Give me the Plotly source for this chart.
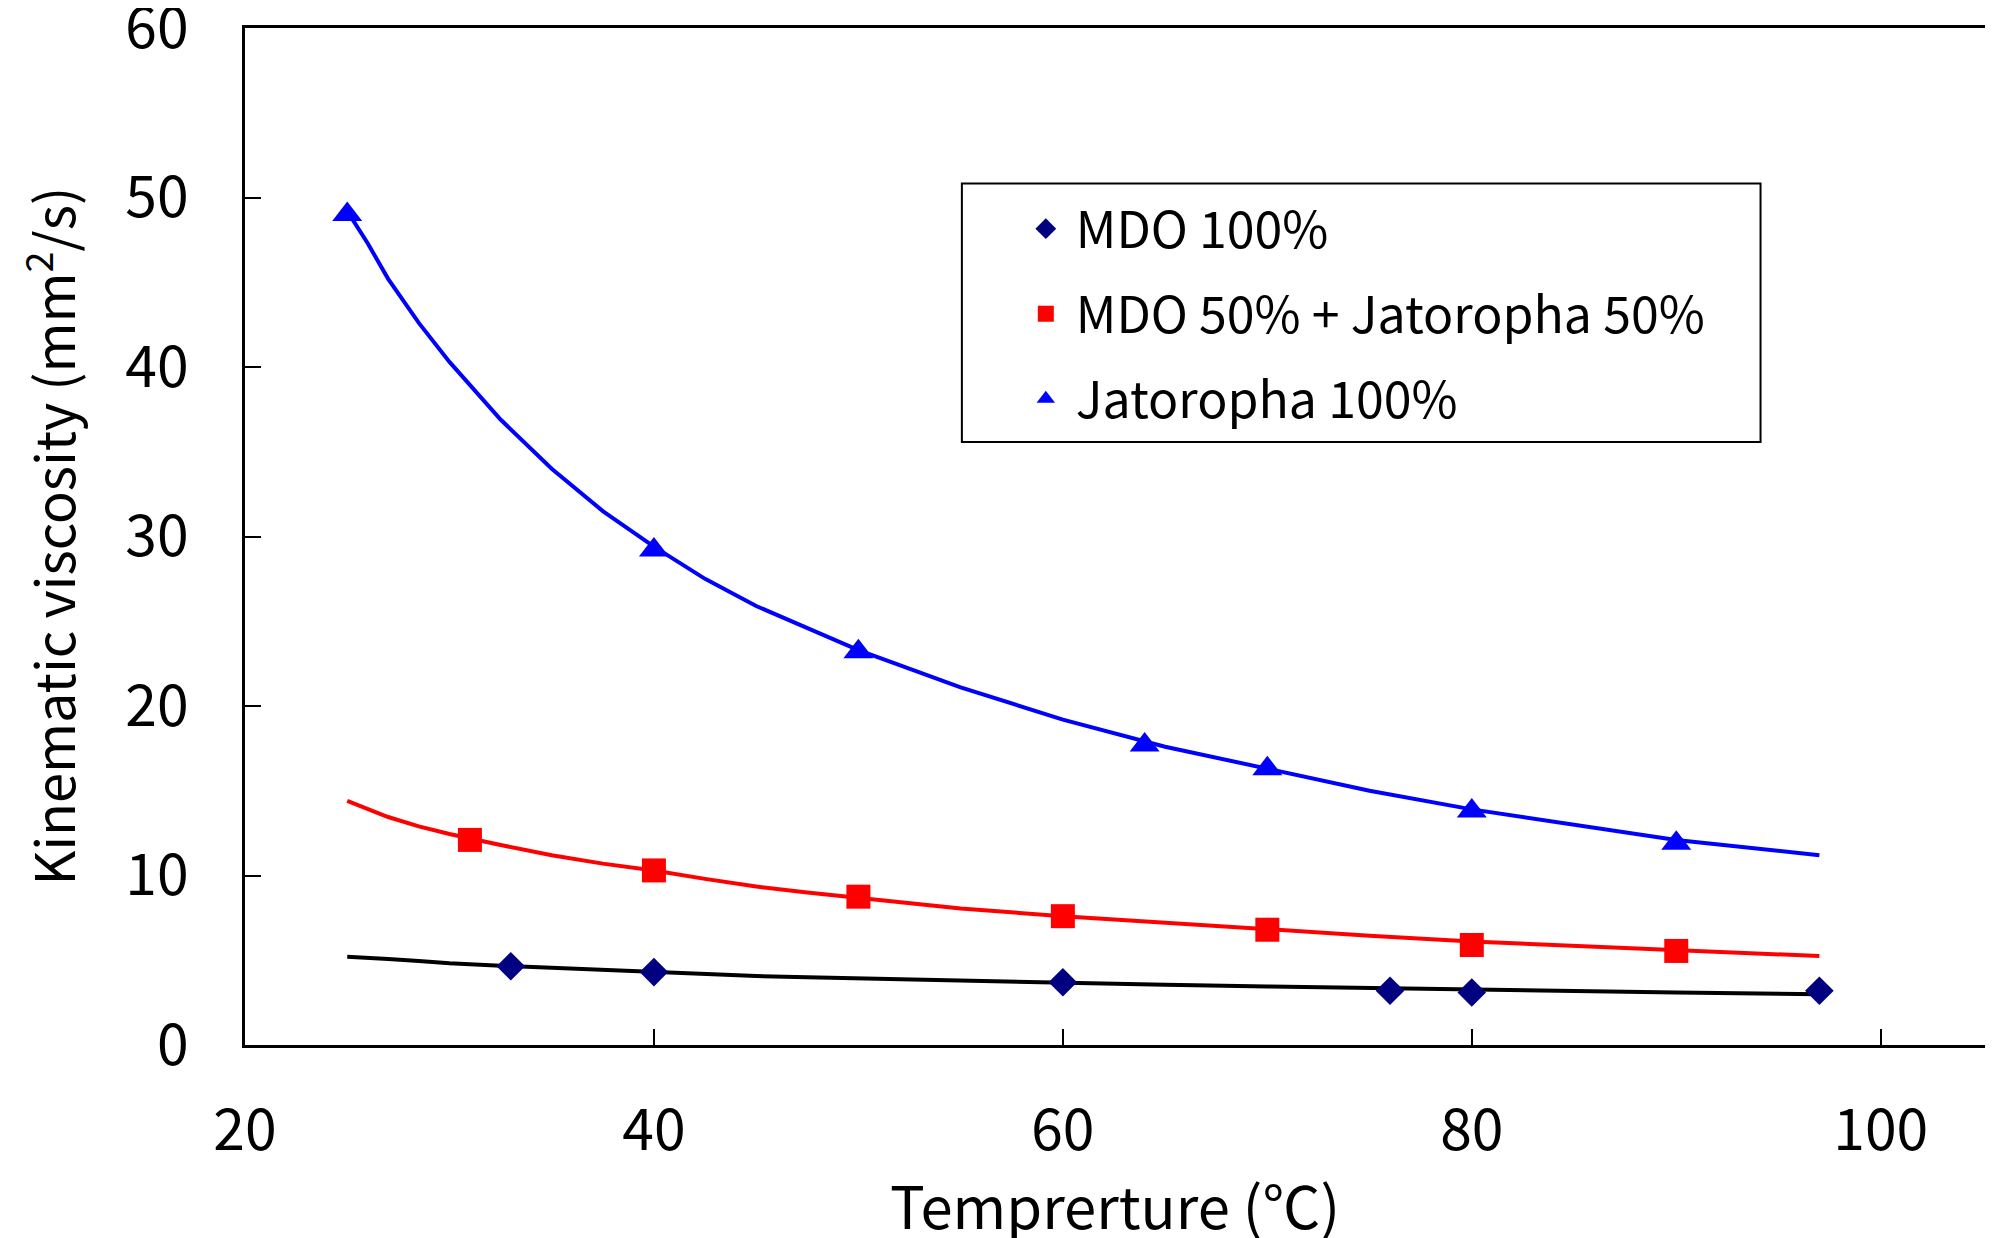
import plotly.graph_objects as go

# Measured points
mdo_x = [33, 40, 60, 76, 80, 97]
mdo_y = [4.65, 4.3, 3.7, 3.2, 3.1, 3.2]

mix_x = [31, 40, 50, 60, 70, 80, 90]
mix_y = [12.1, 10.3, 8.75, 7.6, 6.8, 5.9, 5.55]

jat_x = [25, 40, 50, 64, 70, 80, 90]
jat_y = [49.0, 29.2, 23.2, 17.7, 16.3, 13.8, 11.9]

# Fitted curves
fit_x = [25, 26, 27, 28.5, 30, 32.5, 35, 37.5, 40, 42.5, 45, 47.5, 50, 55, 60, 65, 70, 75, 80, 85, 90, 97]
jat_fit = [49.2, 47.3, 45.2, 42.6, 40.3, 36.9, 34.0, 31.5, 29.4, 27.5, 25.9, 24.6, 23.3, 21.1, 19.2,
           17.6, 16.3, 15.0, 13.9, 13.0, 12.1, 11.2]
mix_fit = [14.4, 13.9, 13.45, 12.9, 12.45, 11.8, 11.2, 10.7, 10.3, 9.8, 9.35, 9.0, 8.7, 8.05, 7.6,
           7.2, 6.85, 6.45, 6.1, 5.85, 5.6, 5.25]
mdo_fit = [5.2, 5.15, 5.08, 4.95, 4.82, 4.68, 4.55, 4.42, 4.3, 4.18, 4.07, 4.0, 3.93, 3.78, 3.66,
           3.55, 3.45, 3.35, 3.25, 3.18, 3.1, 3.0]

series_names = ["MDO 100%", "MDO 50% + Jatoropha 50%", "Jatoropha 100%"]

x_ticks = [20, 40, 60, 80, 100]
y_ticks = [0, 10, 20, 30, 40, 50, 60]

x_title = "Temprerture (℃)"
y_title = "Kinematic viscosity (mm<sup>2</sup>/s)"

FONT = "Noto Sans CJK JP"

fig = go.Figure()

# fitted lines
for fy, col in [(mdo_fit, "black"), (mix_fit, "#FF0000"), (jat_fit, "#0000FF")]:
    fig.add_trace(go.Scatter(x=fit_x, y=fy, mode="lines", line=dict(color=col, width=4),
                             showlegend=False, hoverinfo="skip"))

# markers
fig.add_trace(go.Scatter(x=mdo_x, y=mdo_y, mode="markers", name=series_names[0], legendgroup="a",
                         marker=dict(symbol="diamond", size=22, color="#000080")))
fig.add_trace(go.Scatter(x=mix_x, y=mix_y, mode="markers", name=series_names[1], legendgroup="b",
                         marker=dict(symbol="square", size=24, color="#FF0000")))
fig.add_trace(go.Scatter(x=jat_x, y=jat_y, mode="markers", name=series_names[2], legendgroup="c",
                         marker=dict(symbol="triangle-up", size=26, color="#0000FF")))

axis_common = dict(
    showgrid=False, zeroline=False, showline=True, linecolor="black", linewidth=3,
    mirror=True, ticks="inside", ticklen=16, tickwidth=2, tickcolor="black",
    tickfont=dict(family=FONT, size=57, color="black"), ticklabeloverflow="allow",
    automargin=False,
)

fig.update_xaxes(range=[20, 105.1], tickvals=x_ticks, ticklabelstandoff=34, **axis_common)
fig.update_yaxes(range=[0, 60], tickvals=y_ticks, ticklabelstandoff=42, **axis_common)

fig.add_annotation(text=x_title, xref="paper", yref="paper", x=0.5, y=-0.156,
                   xanchor="center", yanchor="middle", showarrow=False,
                   font=dict(family=FONT, size=58, color="black"))
fig.add_annotation(text=y_title, xref="paper", yref="paper", x=-0.112, y=0.50, textangle=-90,
                   xanchor="center", yanchor="middle", showarrow=False,
                   font=dict(family=FONT, size=54, color="black"))

fig.add_shape(type="rect", xref="paper", yref="paper", x0=0.412, x1=0.871, y0=0.593, y1=0.847,
              line=dict(color="black", width=2), fillcolor="rgba(0,0,0,0)")

# the page body adds an 8px offset, so the figure is shrunk by that much
fig.update_layout(
    width=1985, height=1230,
    margin=dict(l=237, r=8, t=20, b=193),
    plot_bgcolor="white", paper_bgcolor="white",
    font=dict(family=FONT, color="black"),
    legend=dict(x=0.443, y=0.841, xanchor="left", yanchor="top", borderwidth=0,
                bgcolor="rgba(0,0,0,0)", font=dict(family=FONT, size=50, color="black"),
                traceorder="grouped", tracegroupgap=17, itemwidth=50),
)

fig.write_html("out.html")
